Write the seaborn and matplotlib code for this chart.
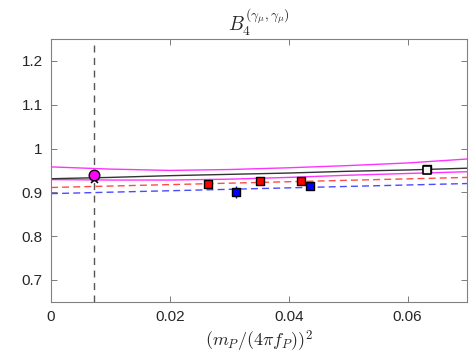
import matplotlib
matplotlib.use("Agg")
import matplotlib.pyplot as plt
from matplotlib.ticker import FuncFormatter
import seaborn as sns

sns.set_theme(style="white")
plt.rcParams["font.family"] = ["Liberation Sans", "DejaVu Sans"]
plt.rcParams["mathtext.fontset"] = "cm"

# ── data ─────────────────────────────────────────────────────────────────────
X_PHYS = 0.0073

curve_x = [0.0, 0.01, 0.02, 0.03, 0.04, 0.05, 0.06, 0.07]
fit_central = [0.931, 0.934, 0.938, 0.941, 0.944, 0.948, 0.951, 0.955]
band_upper = [0.958, 0.953, 0.950, 0.952, 0.956, 0.961, 0.967, 0.976]
band_lower = [0.929, 0.928, 0.928, 0.930, 0.934, 0.939, 0.943, 0.947]

line_x = [0.0, 0.07]
red_fit = [0.911, 0.934]
blue_fit = [0.897, 0.920]

red_x = [0.0264, 0.0352, 0.0421]
red_y = [0.920, 0.925, 0.925]
red_err = [0.003, 0.003, 0.003]

blue_x = [0.0312, 0.0436, 0.0633]
blue_y = [0.901, 0.914, 0.954]
blue_err = [0.0145, 0.005, 0.003]

open_x = [0.0633]
open_y = [0.950]

phys_y = 0.940
phys_fit_y = 0.931

# ── figure ───────────────────────────────────────────────────────────────────
fig = plt.figure(figsize=(4.77, 3.58), dpi=100)
ax = fig.add_axes([0.107, 0.157, 0.872, 0.734])

ax.axvline(X_PHYS, color="#555555", ls=(0, (5, 4)), lw=1.0, zorder=1)

sns.lineplot(x=curve_x, y=band_upper, color="#ff33ff", lw=1.0, ax=ax)
sns.lineplot(x=curve_x, y=band_lower, color="#ff33ff", lw=1.0, ax=ax)
sns.lineplot(x=curve_x, y=fit_central, color="#333333", lw=1.0, ax=ax)
sns.lineplot(x=line_x, y=red_fit, color="#ff4a4a", lw=1.0, ax=ax,
             linestyle=(0, (5, 3)))
sns.lineplot(x=line_x, y=blue_fit, color="#4a4aff", lw=1.0, ax=ax,
             linestyle=(0, (5, 3)))

ax.errorbar(red_x, red_y, yerr=red_err, fmt="none", ecolor="red", lw=1, zorder=3)
ax.errorbar(blue_x, blue_y, yerr=blue_err, fmt="none", ecolor="blue", lw=1, zorder=3)

sns.scatterplot(x=blue_x, y=blue_y, marker="s", s=34, color="blue",
                edgecolor="black", linewidth=1.0, ax=ax, zorder=4)
sns.scatterplot(x=red_x, y=red_y, marker="s", s=34, color="red",
                edgecolor="black", linewidth=1.0, ax=ax, zorder=4)
sns.scatterplot(x=open_x, y=open_y, marker="s", s=32, color="#f4f4f4",
                edgecolor="black", linewidth=1.2, ax=ax, zorder=5)

ax.errorbar([X_PHYS], [phys_fit_y], yerr=[0.004], fmt="none", ecolor="black",
            lw=1, zorder=5)
sns.scatterplot(x=[X_PHYS], y=[phys_fit_y], marker="x", s=25, color="black",
                linewidth=1.2, ax=ax, zorder=5)
sns.scatterplot(x=[X_PHYS], y=[phys_y], marker="o", s=58, color="#ff00ff",
                edgecolor="black", linewidth=1.0, ax=ax, zorder=6)

ax.set_xlim(0, 0.07)
ax.set_ylim(0.65, 1.25)
ax.set_xticks([0, 0.02, 0.04, 0.06])
ax.set_yticks([0.7, 0.8, 0.9, 1.0, 1.1, 1.2])
fmt = FuncFormatter(lambda v, p: f"{v:g}")
ax.xaxis.set_major_formatter(fmt)
ax.yaxis.set_major_formatter(fmt)

ax.tick_params(direction="in", length=4, width=0.6, colors="#666666",
               labelcolor="#262626", labelsize=11, top=True, right=True,
               bottom=True, left=True, pad=6)
for sp in ax.spines.values():
    sp.set_color("#808080")
    sp.set_linewidth(0.8)

ax.set_title(r"$B_4^{(\gamma_\mu,\gamma_\mu)}$", fontsize=14, pad=6)
ax.set_xlabel(r"$(m_P/(4\pi f_P))^2$", fontsize=13, labelpad=3)

fig.savefig("out.png", dpi=100)
